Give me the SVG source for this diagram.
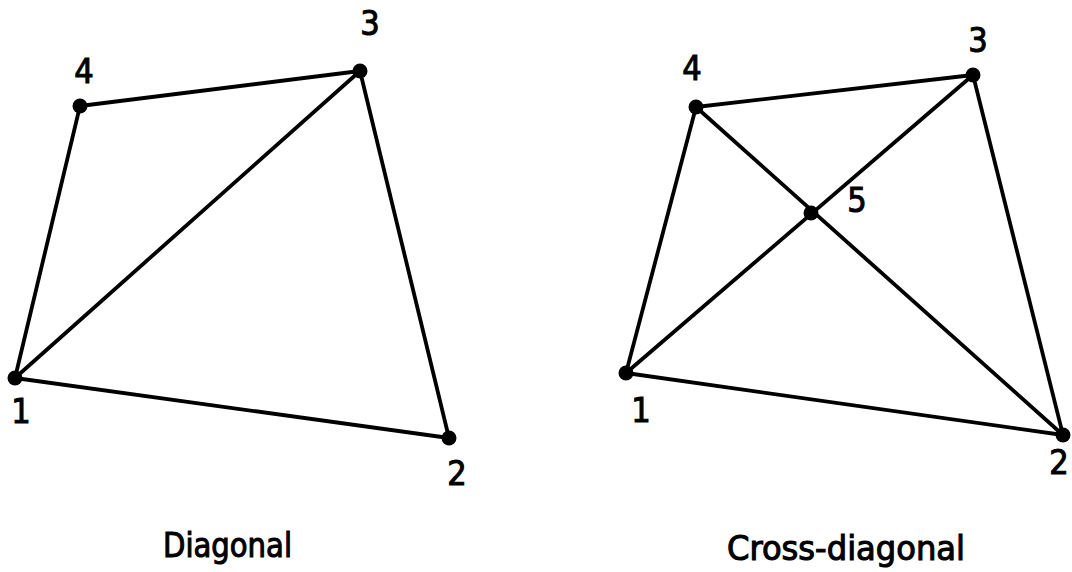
<svg xmlns="http://www.w3.org/2000/svg" width="1072" height="572" viewBox="0 0 1072 572">
<style>
.e{stroke:#000;stroke-width:3.8;fill:none;stroke-linecap:round}
.n{fill:#000}
.t{font-family:"DejaVu Sans Condensed","DejaVu Sans",sans-serif;font-size:34px;fill:#000;stroke:#000;stroke-width:1;text-anchor:middle}
.c{font-family:"DejaVu Sans Condensed","DejaVu Sans",sans-serif;font-size:33px;fill:#000;stroke:#000;stroke-width:1}
</style>
<rect width="1072" height="572" fill="#fff"/>
<g id="connectors">
<line class="e" x1="15" y1="378" x2="80" y2="106"/>
<line class="e" x1="80" y1="106" x2="360" y2="71"/>
<line class="e" x1="360" y1="71" x2="449" y2="438"/>
<line class="e" x1="15" y1="378" x2="449" y2="438"/>
<line class="e" x1="15" y1="378" x2="360" y2="71"/>
<line class="e" x1="626" y1="373" x2="696" y2="107"/>
<line class="e" x1="696" y1="107" x2="973" y2="75"/>
<line class="e" x1="973" y1="75" x2="1063" y2="435"/>
<line class="e" x1="626" y1="373" x2="1063" y2="435"/>
<line class="e" x1="626" y1="373" x2="973" y2="75"/>
<line class="e" x1="696" y1="107" x2="1063" y2="435"/>
</g>
<g id="d1">
<g id="d1-n1"><circle class="n" cx="15" cy="378" r="7.5"/><text class="t" x="21" y="423">1</text></g>
<g id="d1-n2"><circle class="n" cx="449" cy="438" r="7.5"/><text class="t" x="457" y="485">2</text></g>
<g id="d1-n3"><circle class="n" cx="360" cy="71" r="7.5"/><text class="t" x="370" y="35">3</text></g>
<g id="d1-n4"><circle class="n" cx="80" cy="106" r="7.5"/><text class="t" x="84" y="83">4</text></g>
<text id="d1-title" class="c" x="163" y="557" textLength="129" lengthAdjust="spacingAndGlyphs">Diagonal</text>
</g>
<g id="d2">
<g id="d2-n1"><circle class="n" cx="626" cy="373" r="7.5"/><text class="t" x="641" y="422">1</text></g>
<g id="d2-n2"><circle class="n" cx="1063" cy="435" r="7.5"/><text class="t" x="1059" y="474">2</text></g>
<g id="d2-n3"><circle class="n" cx="973" cy="75" r="7.5"/><text class="t" x="978" y="52">3</text></g>
<g id="d2-n4"><circle class="n" cx="696" cy="107" r="7.5"/><text class="t" x="692" y="80">4</text></g>
<g id="d2-n5"><circle class="n" cx="811" cy="213" r="7.5"/><text class="t" x="857" y="212">5</text></g>
<text id="d2-title" class="c" x="727" y="560" textLength="238" lengthAdjust="spacingAndGlyphs">Cross-diagonal</text>
</g>
</svg>
